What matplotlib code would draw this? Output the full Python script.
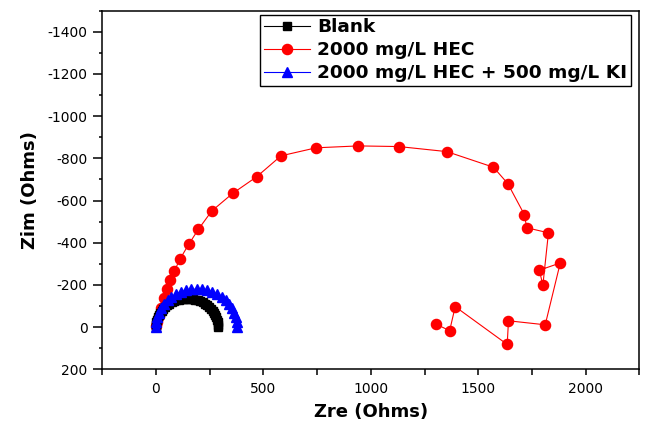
import matplotlib
matplotlib.use("Agg")
import matplotlib.pyplot as plt
from matplotlib.ticker import MultipleLocator

plt.rcParams['font.family'] = ['DejaVu Sans']
plt.rcParams['axes.unicode_minus'] = False

# Blank
blank_zre = [0, 1, 2, 5, 9, 14, 19, 26, 34, 43, 52, 62, 73, 84, 95, 108, 120, 132, 145,
             158, 170, 183, 195, 206, 218, 228, 238, 248, 256, 264, 271, 276, 281, 285, 288, 289, 290]
blank_zim = [0, -12, -23, -35, -46, -57, -68, -77, -87, -95, -103, -111, -117, -122, -127, -130, -133, -134, -135,
             -134, -133, -130, -127, -122, -117, -111, -103, -95, -87, -77, -68, -57, -46, -35, -23, -12, 0]

# 2000 mg/L HEC
hec_zre = [1, 6, 15, 25, 36, 51, 67, 85, 112, 152, 197, 259, 357, 469, 582, 745, 942, 1130, 1354,
           1571, 1638, 1715, 1726, 1827, 1801, 1785, 1882, 1812, 1641, 1635, 1393, 1367, 1304]
hec_zim = [-3, -22, -51, -89, -136, -183, -222, -265, -323, -392, -463, -550, -634, -713, -812, -850, -859, -856, -832,
           -758, -680, -533, -471, -447, -198, -270, -304, -11, -30, 82, -97, 17, -14]

# 2000 mg/L HEC + 500 mg/L KI
ki_zre = [0, 2, 6, 14, 25, 38, 54, 72, 93, 115, 139, 164, 189, 214, 239, 263, 285, 306,
          325, 341, 355, 365, 372, 376, 378]
ki_zim = [0, -23, -47, -69, -90, -110, -127, -143, -156, -167, -174, -179, -180, -179, -174, -167, -156, -143,
          -127, -110, -90, -69, -47, -23, 0]

labels = ['Blank', '2000 mg/L HEC', '2000 mg/L HEC + 500 mg/L KI']

fig = plt.figure(figsize=(6.45, 4.25), dpi=100)
ax = fig.add_axes([102.3/645, 1-369.3/425, (639.3-102.3)/645, (369.3-10.7)/425])

ax.plot(blank_zre, blank_zim, color='black', lw=0.8, marker='s', ms=5.5, mec='black', mfc='black', label=labels[0], zorder=3)
ax.plot(hec_zre, hec_zim, color='red', lw=0.8, marker='o', ms=7.3, mec='red', mfc='red', label=labels[1], zorder=2)
ax.plot(ki_zre, ki_zim, color='blue', lw=0.8, marker='^', ms=7, mec='blue', mfc='blue', label=labels[2], zorder=4)

ax.set_xlim(-250, 2250)
ax.set_ylim(200, -1500)
ax.xaxis.set_major_locator(MultipleLocator(500))
ax.xaxis.set_minor_locator(MultipleLocator(250))
ax.yaxis.set_major_locator(MultipleLocator(200))
ax.yaxis.set_minor_locator(MultipleLocator(100))

ax.tick_params(axis='both', which='both', direction='out', top=False, right=False, labelsize=10, width=1.1)
ax.tick_params(axis='y', which='major', length=6.5, pad=4)
ax.tick_params(axis='y', which='minor', length=2.5)
ax.tick_params(axis='x', which='major', length=4, pad=5)
ax.tick_params(axis='x', which='minor', length=4)
for s in ax.spines.values():
    s.set_linewidth(1.1)

lab_font = {'family': 'DejaVu Sans', 'weight': 'bold', 'size': 13}
ax.set_xlabel('Zre (Ohms)', fontdict=lab_font, labelpad=5)
ax.set_ylabel('Zim (Ohms)', fontdict=lab_font, labelpad=6)

leg = ax.legend(loc='upper right', bbox_to_anchor=(630.7/645, 1-14.7/425), bbox_transform=fig.transFigure,
                prop={'family': 'DejaVu Sans', 'weight': 'bold', 'size': 13.3}, numpoints=1,
                handlelength=2.49, handletextpad=0.38,
                fancybox=False, framealpha=1, edgecolor='black', borderpad=0.2, labelspacing=0.27,
                borderaxespad=0, handleheight=0.7)
leg.get_frame().set_linewidth(1.0)

fig.savefig('out.png', dpi=100)
